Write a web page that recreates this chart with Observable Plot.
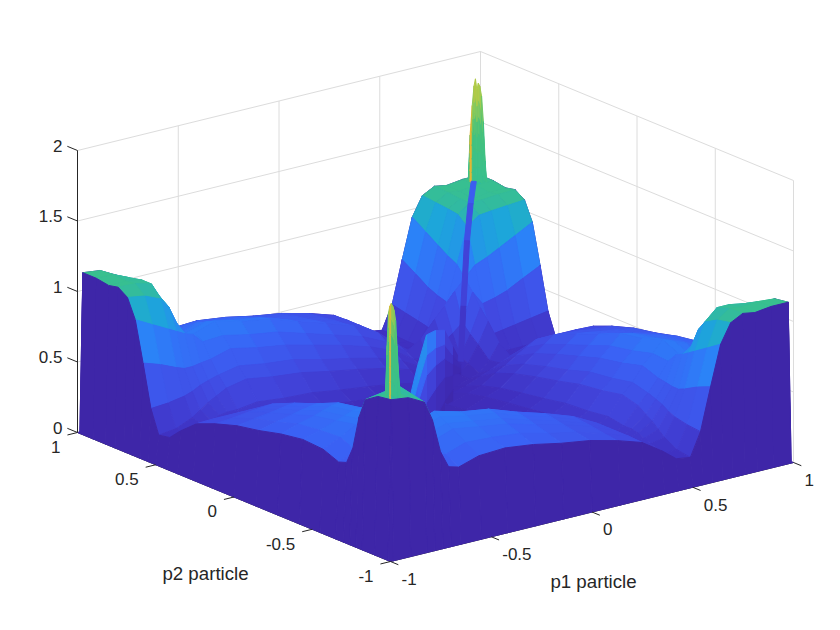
<!DOCTYPE html>
<html>
<head>
<meta charset="utf-8">
<script src="https://cdn.jsdelivr.net/npm/d3@7"></script>
<script src="https://cdn.jsdelivr.net/npm/@observablehq/plot@0.6"></script>
<style>
  html, body { margin: 0; padding: 0; background: #fff; }
  svg { display: block; }
</style>
</head>
<body>
<div id="chart"></div>
<script>
// grid of the surface (same for p1 and p2), outer ring is the z=0 skirt
const gridP = [-1,-.985,-.9,-.82,-.78,-.74,-.7,-.65,-.55,-.42,-.28,-.14,0,.14,.26,.36,.43,.5,.55,.6,.65,.7,.76,.82,.9,.985,1];

// z, one row per p2 (from -1 to 1), one column per p1
const zRows = [
  [0,0,0,0,0,0,0,0,0,0,0,0,0,0,0,0,0,0,0,0,0,0,0,0,0,0,0],
  [0,1.135,1.12,1.06,.92,.68,.56,.54,.585,.595,.57,.53,.5,.45,.395,.3,.22,.205,.37,.67,.955,1.09,1.135,1.12,1.135,1.135,0],
  [0,1.12,1.13,1.08,.94,.7,.6,.59,.64,.63,.61,.56,.52,.46,.4,.295,.22,.22,.38,.63,.89,1.07,1.13,1.12,1.13,1.12,0],
  [0,1.06,1.08,1.1,.96,.74,.64,.65,.7,.67,.64,.585,.535,.475,.4,.29,.25,.27,.4,.58,.83,1.02,1.1,1.1,1.08,1.06,0],
  [0,.92,.94,.96,.9,.74,.65,.68,.72,.69,.66,.6,.545,.48,.4,.27,.27,.31,.42,.56,.8,.95,1,1,.96,.92,0],
  [0,.68,.7,.74,.74,.68,.62,.7,.75,.71,.68,.61,.555,.485,.4,.26,.29,.35,.45,.56,.77,.82,.88,.86,.76,.68,0],
  [0,.56,.6,.64,.65,.62,.6,.72,.77,.72,.69,.62,.56,.49,.4,.25,.3,.38,.47,.57,.75,.72,.78,.76,.65,.56,0],
  [0,.54,.59,.65,.68,.7,.72,.65,.69,.65,.62,.56,.5,.44,.36,.25,.3,.42,.49,.58,.68,.72,.69,.65,.59,.54,0],
  [0,.585,.64,.7,.72,.75,.77,.69,.52,.49,.47,.42,.38,.33,.27,.26,.32,.45,.52,.62,.69,.77,.735,.7,.64,.585,0],
  [0,.595,.63,.67,.69,.71,.72,.65,.49,.32,.3,.27,.25,.22,.18,.245,.3,.42,.49,.58,.65,.72,.7,.67,.63,.595,0],
  [0,.57,.61,.64,.66,.68,.69,.62,.47,.3,.17,.155,.14,.12,.16,.235,.29,.4,.47,.55,.62,.69,.67,.64,.61,.57,0],
  [0,.53,.56,.585,.6,.61,.62,.56,.42,.27,.155,.08,.075,.08,.14,.21,.26,.36,.42,.5,.56,.62,.605,.585,.56,.53,0],
  [0,.5,.52,.535,.545,.555,.56,.5,.38,.25,.14,.075,.045,.073,.13,.19,.235,.325,.38,.45,.5,.56,.55,.535,.52,.5,0],
  [0,.45,.46,.475,.48,.485,.49,.44,.33,.22,.12,.08,.073,.064,.11,.167,.206,.284,.333,.39,.44,.49,.48,.475,.46,.45,0],
  [0,.395,.4,.4,.4,.4,.4,.36,.27,.18,.16,.14,.13,.11,.092,.136,.168,.232,.272,.32,.36,.4,.4,.4,.4,.395,0],
  [0,.3,.295,.29,.27,.26,.25,.25,.26,.245,.235,.21,.19,.167,.136,.095,.118,.162,.19,.224,.255,.28,.283,.29,.295,.3,0],
  [0,.22,.22,.25,.27,.29,.3,.3,.32,.3,.29,.26,.235,.206,.168,.118,.084,.116,.136,.21,.315,.2,.203,.21,.215,.22,0],
  [0,.205,.22,.27,.31,.35,.38,.42,.45,.42,.4,.36,.325,.284,.232,.162,.116,.116,.174,.29,.435,.2,.2,.2,.205,.205,0],
  [0,.37,.38,.4,.42,.45,.47,.49,.52,.49,.47,.42,.38,.333,.272,.19,.136,.174,.204,.34,.51,.3,.315,.33,.35,.37,0],
  [0,.67,.63,.58,.56,.56,.57,.58,.62,.58,.55,.5,.45,.39,.32,.224,.21,.29,.34,.4,.6,.5,.52,.55,.61,.67,0],
  [0,.955,.89,.83,.8,.77,.75,.68,.69,.65,.62,.56,.5,.44,.36,.255,.315,.435,.51,.6,.675,.75,.785,.83,.89,.955,0],
  [0,1.09,1.07,1.02,.95,.82,.72,.72,.77,.72,.69,.62,.56,.49,.4,.28,.2,.2,.3,.5,.75,1,1.06,1.07,1.08,1.09,0],
  [0,1.135,1.13,1.1,1,.88,.78,.69,.735,.7,.67,.605,.55,.48,.4,.283,.203,.2,.315,.52,.785,1.06,1.12,1.12,1.13,1.135,0],
  [0,1.12,1.12,1.1,1,.86,.76,.65,.7,.67,.64,.585,.535,.475,.4,.29,.21,.2,.33,.55,.83,1.07,1.12,1.1,1.12,1.12,0],
  [0,1.135,1.13,1.08,.96,.76,.65,.59,.64,.63,.61,.56,.52,.46,.4,.295,.215,.205,.35,.61,.89,1.08,1.13,1.12,1.13,1.135,0],
  [0,1.135,1.12,1.06,.92,.68,.56,.54,.585,.595,.57,.53,.5,.45,.395,.3,.22,.205,.37,.67,.955,1.09,1.135,1.12,1.135,1.135,0],
  [0,0,0,0,0,0,0,0,0,0,0,0,0,0,0,0,0,0,0,0,0,0,0,0,0,0,0]
];

// narrow features on the diagonal p1 = p2, too thin for the grid above
const arcP = [-.6,-.4,-.2,0,.2,.38,.56];
const arcZ = [.8,.9,.96,.83,.67,.41,.16];
const arcFade = [1,.95,.85,.7,.6,.5];
const arcLevels = [0,.25,.5,.7,.85,1];
const arcLevelFill = [.1,.25,.45,.7,.95];

const streakP = [.56,.62,.7,.78,.85];
const streakZ = [.16,.5,.9,1.1,1.2];
const streakFill = [.25,.35,.45,.55,.6];

const spikeBase = 1.05;
const spikeLevels = [0,.12,.25,.4,.55,.7,.85,1];
const backSpikeP = .92;
const backSpikeOffset = [-.024,-.019,-.013,-.008,-.004,0,.004,.008,.013,.018,.023,.027];
const backSpikeTop = [1.15,1.47,1.68,1.82,1.87,1.79,1.84,1.82,1.75,1.57,1.29,1.15];
const backSpikeHot = 1;
const frontSpikeP = -.95;
const frontSpikeOffset = [-.02,-.016,-.012,-.008,-.004,0,.004,.008,.012,.016,.02];
const frontSpikeTop = [1.13,1.49,1.72,1.77,1.79,1.77,1.74,1.67,1.49,1.31,1.16];
const frontSpikeHot = 3;

// colormap stops
const colorZ = [0,.2,.4,.6,.78,.98,1.13,1.5,1.75,1.95];
const colorHex = ["#3e26a8","#3f30c0","#4148e0","#3a62f5","#2b82f8","#1ca8d8","#38c08f","#45c27c","#a8cc4c","#e8b830"];

// axis ticks and labels
const zTicks = [0,.5,1,1.5,2];
const zTickLabels = ["0","0.5","1","1.5","2"];
const pTicks = [-1,-.5,0,.5,1];
const pTickLabels = ["-1","-0.5","0","0.5","1"];

// view: where the box corners land on the page
function project(p1, p2, z) {
  return [
    390 + 201.5 * (p1 + 1) - 156.5 * (p2 + 1),
    561 - 49.5 * (p1 + 1) - 64.5 * (p2 + 1) - 141 * z
  ];
}
const depth = (p1, p2) => 49.5 * p1 + 64.5 * p2;

// --- polygons, sorted back to front ---
const polys = [];
const n = gridP.length;
for (let j = 0; j < n - 1; j++) {
  for (let i = 0; i < n - 1; i++) {
    const a = gridP[i], b = gridP[i + 1], c = gridP[j], d = gridP[j + 1];
    const z00 = zRows[j][i], z10 = zRows[j][i + 1], z11 = zRows[j + 1][i + 1], z01 = zRows[j + 1][i];
    const skirt = i === 0 || j === 0 || i === n - 2 || j === n - 2;
    polys.push({
      key: depth((a + b) / 2, (c + d) / 2),
      fill: skirt ? 0 : (z00 + z10 + z11 + z01) / 4,
      pts: [[a, c, z00], [b, c, z10], [b, d, z11], [a, d, z01]]
    });
  }
}
// curtain under the arc in the middle
for (let k = 0; k < arcP.length - 1; k++) {
  const a = arcP[k], b = arcP[k + 1];
  for (let l = 0; l < arcLevels.length - 1; l++) {
    const f0 = arcLevels[l], f1 = arcLevels[l + 1];
    polys.push({
      key: depth((a + b) / 2, (a + b) / 2),
      fill: arcLevelFill[l] * arcFade[k] * (arcZ[k] + arcZ[k + 1]) / 2,
      pts: [[a, a, f0 * arcZ[k]], [b, b, f0 * arcZ[k + 1]], [b, b, f1 * arcZ[k + 1]], [a, a, f1 * arcZ[k]]]
    });
  }
}
// blue streak running up the back hill
for (let k = 0; k < streakP.length - 1; k++) {
  const a = streakP[k], b = streakP[k + 1], w = .007;
  polys.push({
    key: depth((a + b) / 2, (a + b) / 2) - 25,
    fill: streakFill[k],
    pts: [[a + w, a - w, streakZ[k]], [b + w, b - w, streakZ[k + 1]], [b - w, b + w, streakZ[k + 1]], [a - w, a + w, streakZ[k]]]
  });
}
// the two spikes: columns across the diagonal
function addSpike(p, offset, top, hot) {
  for (let k = 0; k < offset.length - 1; k++) {
    const o0 = offset[k], o1 = offset[k + 1];
    const h0 = top[k] - spikeBase, h1 = top[k + 1] - spikeBase;
    for (let l = 0; l < spikeLevels.length - 1; l++) {
      const f0 = spikeLevels[l], f1 = spikeLevels[l + 1];
      polys.push({
        key: depth(p, p),
        fill: k === hot ? 1.95 : spikeBase + (f0 + f1) / 2 * (h0 + h1) / 2,
        pts: [
          [p + o0, p - o0, spikeBase + f0 * h0], [p + o1, p - o1, spikeBase + f0 * h1],
          [p + o1, p - o1, spikeBase + f1 * h1], [p + o0, p - o0, spikeBase + f1 * h0]
        ]
      });
    }
  }
}
addSpike(backSpikeP, backSpikeOffset, backSpikeTop, backSpikeHot);
addSpike(frontSpikeP, frontSpikeOffset, frontSpikeTop, frontSpikeHot);

polys.sort((s, t) => t.key - s.key);
const polyRows = [];
polys.forEach((poly, id) => {
  for (const q of [...poly.pts, poly.pts[0]]) {
    const [x, y] = project(q[0], q[1], q[2]);
    polyRows.push({ id, x, y, c: poly.fill });
  }
});

// --- box, grid, axes ---
const seg = (a, b) => {
  const [x1, y1] = project(...a), [x2, y2] = project(...b);
  return { x1, y1, x2, y2 };
};
const gridSegs = [];
for (const t of pTicks) {
  gridSegs.push(seg([t, 1, 0], [t, 1, 2]), seg([1, t, 0], [1, t, 2]));
  gridSegs.push(seg([t, -1, 0], [t, 1, 0]), seg([-1, t, 0], [1, t, 0]));
}
for (const t of zTicks) {
  gridSegs.push(seg([-1, 1, t], [1, 1, t]), seg([1, 1, t], [1, -1, t]));
}
const axisSegs = [
  seg([-1, 1, 0], [-1, 1, 2]),
  seg([-1, 1, 0], [-1, -1, 0]),
  seg([-1, -1, 0], [1, -1, 0])
];
const tickSegs = [];
for (const t of zTicks) tickSegs.push(seg([-1, 1, t], [-1, 1.065, t]));
for (const t of pTicks) {
  tickSegs.push(seg([-1, t, 0], [-1.05, t, 0]));
  tickSegs.push(seg([t, -1, 0], [t, -1.05, 0]));
}

const at = (fn, labels, values) => values.map((v, i) => {
  const [x, y] = fn(v);
  return { x, y, label: labels[i] };
});
const zLabelRows = at(v => project(-1, 1, v), zTickLabels, zTicks);
const p2LabelRows = at(v => project(-1, v, 0), pTickLabels, pTicks);
const p1LabelRows = at(v => project(v, -1, 0), pTickLabels, pTicks);

const textStyle = { x: "x", y: "y", text: "label", fill: "#262626", fontFamily: "Liberation Sans, Arial, sans-serif", lineAnchor: "middle" };

const chart = Plot.plot({
  width: 840,
  height: 630,
  margin: 0,
  x: { domain: [0, 840], range: [0, 840], axis: null },
  y: { domain: [0, 630], range: [0, 630], axis: null },
  color: { type: "linear", domain: colorZ, range: colorHex },
  style: { background: "#fff" },
  marks: [
    Plot.link(gridSegs, { x1: "x1", y1: "y1", x2: "x2", y2: "y2", stroke: "#dcdcdc", strokeWidth: 1 }),
    Plot.link(axisSegs, { x1: "x1", y1: "y1", x2: "x2", y2: "y2", stroke: "#262626", strokeWidth: 1 }),
    Plot.line(polyRows, { x: "x", y: "y", z: "id", fill: "c", stroke: "c", strokeWidth: 1, curve: "linear" }),
    Plot.link(tickSegs, { x1: "x1", y1: "y1", x2: "x2", y2: "y2", stroke: "#262626", strokeWidth: 1 }),
    Plot.text(zLabelRows, { ...textStyle, textAnchor: "end", dx: -15, dy: -4, fontSize: 17 }),
    Plot.text(p2LabelRows, { ...textStyle, textAnchor: "end", dx: -17, dy: 15, fontSize: 17 }),
    Plot.text(p1LabelRows, { ...textStyle, textAnchor: "start", dx: 11, dy: 18, fontSize: 17 }),
    Plot.text([{ x: 205, y: 574, label: "p2 particle" }, { x: 593, y: 582, label: "p1 particle" }], { ...textStyle, textAnchor: "middle", fontSize: 18.7 })
  ]
});
document.getElementById("chart").appendChild(chart);
</script>
</body>
</html>
